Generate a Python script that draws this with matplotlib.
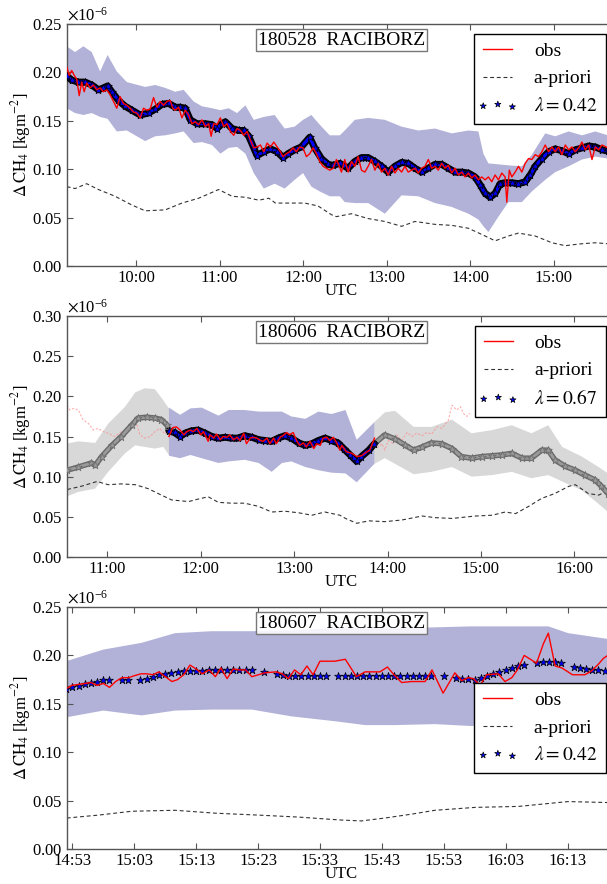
import matplotlib
matplotlib.use("Agg")
import matplotlib.pyplot as plt
import matplotlib.patheffects as pe
from matplotlib.ticker import FuncFormatter, ScalarFormatter
from matplotlib.legend_handler import HandlerPathCollection
from matplotlib.collections import PathCollection
import numpy as np

plt.rcParams['font.family'] = ['Liberation Serif', 'DejaVu Serif']
plt.rcParams['mathtext.fontset'] = 'stix'
plt.rcParams['axes.edgecolor'] = '#555555'
plt.rcParams['axes.linewidth'] = 1.0
plt.rcParams['xtick.direction'] = 'in'
plt.rcParams['ytick.direction'] = 'in'
plt.rcParams['xtick.top'] = True
plt.rcParams['ytick.right'] = True
plt.rcParams['xtick.major.size'] = 4
plt.rcParams['ytick.major.size'] = 4
plt.rcParams['xtick.major.pad'] = 3
plt.rcParams['xtick.color'] = '#555555'
plt.rcParams['ytick.color'] = '#555555'
plt.rcParams['xtick.labelcolor'] = 'black'
plt.rcParams['ytick.labelcolor'] = 'black'

SCALE = 1e-6

# ---------------- Panel 1 : 180528 (times in decimal hours UTC, values x1e-6) ----
p1_title = "180528  RACIBORZ"
p1_lambda = "0.42"
p1_band_t = [9.17, 9.27, 9.37, 9.47, 9.57, 9.66, 9.77, 9.89, 10.11, 10.23, 10.35, 10.47, 10.57, 10.69,
             10.79, 10.91, 11.01, 11.11, 11.21, 11.31, 11.41, 11.53, 11.66, 11.78, 11.90, 12.00, 12.10,
             12.20, 12.32, 12.44, 12.50, 12.62, 12.78, 12.98, 13.18, 13.38, 13.58, 13.78, 13.98, 14.10,
             14.16, 14.22, 14.34, 14.46, 14.62, 14.74, 14.90, 15.02, 15.18, 15.34, 15.50, 15.65]
p1_band_up = [0.227, 0.221, 0.227, 0.221, 0.201, 0.218, 0.201, 0.190, 0.185, 0.187, 0.184, 0.180, 0.182,
              0.170, 0.165, 0.163, 0.161, 0.163, 0.158, 0.166, 0.151, 0.154, 0.156, 0.142, 0.144, 0.151,
              0.156, 0.146, 0.135, 0.135, 0.140, 0.151, 0.153, 0.151, 0.144, 0.140, 0.142, 0.137, 0.140,
              0.139, 0.116, 0.106, 0.105, 0.104, 0.103, 0.115, 0.137, 0.134, 0.139, 0.135, 0.139, 0.135]
p1_band_lo = [0.163, 0.158, 0.156, 0.158, 0.154, 0.152, 0.139, 0.140, 0.129, 0.134, 0.135, 0.137, 0.139,
              0.127, 0.128, 0.125, 0.116, 0.122, 0.123, 0.116, 0.096, 0.080, 0.085, 0.080, 0.089, 0.096,
              0.082, 0.077, 0.072, 0.072, 0.066, 0.065, 0.065, 0.054, 0.073, 0.072, 0.065, 0.061, 0.054,
              0.048, 0.041, 0.035, 0.051, 0.066, 0.066, 0.077, 0.089, 0.097, 0.103, 0.110, 0.113, 0.111]
p1_ret_t = [9.17, 9.23, 9.31, 9.39, 9.47, 9.55, 9.61, 9.66, 9.71, 9.79, 9.87, 9.95, 10.05, 10.15, 10.23,
            10.31, 10.39, 10.47, 10.53, 10.59, 10.65, 10.73, 10.83, 10.91, 10.97, 11.03, 11.07, 11.15,
            11.23, 11.29, 11.35, 11.41, 11.45, 11.53, 11.61, 11.69, 11.76, 11.82, 11.90, 11.98, 12.08,
            12.14, 12.22, 12.30, 12.36, 12.44, 12.54, 12.62, 12.70, 12.78, 12.86, 12.94, 13.02, 13.10,
            13.18, 13.26, 13.34, 13.42, 13.50, 13.58, 13.66, 13.74, 13.82, 13.90, 13.98, 14.06, 14.12,
            14.18, 14.24, 14.30, 14.36, 14.42, 14.50, 14.58, 14.66, 14.72, 14.78, 14.86, 14.94, 15.02,
            15.10, 15.18, 15.26, 15.34, 15.42, 15.50, 15.58, 15.65]
p1_ret_v = [0.196, 0.192, 0.190, 0.190, 0.187, 0.182, 0.184, 0.186, 0.180, 0.171, 0.165, 0.161, 0.156,
            0.158, 0.162, 0.167, 0.168, 0.164, 0.164, 0.163, 0.151, 0.147, 0.147, 0.146, 0.142, 0.147,
            0.149, 0.142, 0.140, 0.140, 0.134, 0.122, 0.114, 0.118, 0.121, 0.118, 0.112, 0.116, 0.120,
            0.123, 0.133, 0.122, 0.111, 0.105, 0.104, 0.106, 0.101, 0.108, 0.112, 0.112, 0.108, 0.103,
            0.097, 0.103, 0.107, 0.106, 0.101, 0.097, 0.101, 0.105, 0.105, 0.101, 0.097, 0.097, 0.096,
            0.092, 0.084, 0.075, 0.071, 0.075, 0.085, 0.086, 0.086, 0.085, 0.087, 0.094, 0.103, 0.111,
            0.118, 0.121, 0.119, 0.116, 0.120, 0.122, 0.124, 0.123, 0.120, 0.119]
p1_obs_t = [9.17, 9.20, 9.23, 9.26, 9.29, 9.32, 9.35, 9.38, 9.41, 9.45, 9.49, 9.53, 9.57, 9.61, 9.65,
            9.69, 9.73, 9.77, 9.81, 9.85, 9.89, 9.93, 9.97, 10.01, 10.05, 10.09, 10.13, 10.17, 10.21,
            10.25, 10.29, 10.33, 10.37, 10.41, 10.44, 10.47, 10.51, 10.55, 10.59, 10.63, 10.67, 10.71,
            10.75, 10.79, 10.83, 10.87, 10.90, 10.93, 10.97, 11.01, 11.05, 11.09, 11.13, 11.17, 11.21,
            11.25, 11.29, 11.33, 11.37, 11.41, 11.45, 11.49, 11.53, 11.57, 11.61, 11.65, 11.69, 11.73,
            11.76, 11.80, 11.84, 11.88, 11.92, 11.96, 12.00, 12.04, 12.08, 12.12, 12.16, 12.20, 12.24,
            12.28, 12.32, 12.36, 12.40, 12.43, 12.46, 12.50, 12.54, 12.58, 12.62, 12.66, 12.70, 12.74,
            12.78, 12.82, 12.86, 12.90, 12.94, 12.98, 13.02, 13.06, 13.10, 13.14, 13.18, 13.22, 13.26,
            13.30, 13.34, 13.38, 13.42, 13.46, 13.50, 13.54, 13.58, 13.62, 13.66, 13.70, 13.74, 13.78,
            13.82, 13.86, 13.90, 13.94, 13.98, 14.02, 14.06, 14.10, 14.14, 14.18, 14.22, 14.26, 14.30,
            14.34, 14.38, 14.42, 14.44, 14.47, 14.50, 14.54, 14.58, 14.62, 14.66, 14.70, 14.74, 14.78,
            14.82, 14.86, 14.90, 14.94, 14.98, 15.02, 15.06, 15.10, 15.14, 15.18, 15.22, 15.26, 15.30,
            15.34, 15.38, 15.42, 15.46, 15.50, 15.54, 15.58, 15.65]
p1_obs_v = [0.206, 0.197, 0.202, 0.197, 0.193, 0.176, 0.190, 0.180, 0.189, 0.184, 0.187, 0.182, 0.184,
            0.180, 0.182, 0.177, 0.170, 0.163, 0.175, 0.168, 0.166, 0.163, 0.159, 0.158, 0.153, 0.163,
            0.161, 0.162, 0.174, 0.164, 0.170, 0.166, 0.170, 0.171, 0.163, 0.161, 0.164, 0.153, 0.161,
            0.156, 0.147, 0.149, 0.146, 0.151, 0.144, 0.147, 0.134, 0.147, 0.146, 0.153, 0.144, 0.147,
            0.139, 0.135, 0.142, 0.140, 0.135, 0.139, 0.130, 0.122, 0.123, 0.125, 0.118, 0.127, 0.123,
            0.128, 0.123, 0.118, 0.113, 0.116, 0.118, 0.122, 0.118, 0.123, 0.122, 0.113, 0.116, 0.122,
            0.116, 0.108, 0.103, 0.101, 0.099, 0.101, 0.110, 0.104, 0.097, 0.110, 0.097, 0.108, 0.103,
            0.113, 0.099, 0.097, 0.103, 0.110, 0.099, 0.106, 0.097, 0.101, 0.094, 0.103, 0.096, 0.101,
            0.097, 0.103, 0.097, 0.099, 0.101, 0.096, 0.101, 0.103, 0.110, 0.101, 0.103, 0.099, 0.106,
            0.101, 0.104, 0.096, 0.101, 0.094, 0.097, 0.092, 0.096, 0.091, 0.094, 0.089, 0.092, 0.089,
            0.092, 0.087, 0.094, 0.089, 0.096, 0.092, 0.066, 0.099, 0.092, 0.097, 0.103, 0.097, 0.106,
            0.111, 0.110, 0.115, 0.113, 0.118, 0.125, 0.118, 0.123, 0.118, 0.123, 0.115, 0.125, 0.120,
            0.123, 0.118, 0.122, 0.128, 0.120, 0.125, 0.110, 0.123, 0.120, 0.125, 0.122]
p1_apr_t = [9.17, 9.27, 9.41, 9.55, 9.75, 9.95, 10.11, 10.35, 10.55, 10.75, 10.91, 10.99, 11.15, 11.31,
            11.47, 11.59, 11.67, 11.82, 12.02, 12.18, 12.34, 12.40, 12.58, 12.78, 12.98, 13.18, 13.34,
            13.58, 13.78, 13.98, 14.18, 14.30, 14.46, 14.58, 14.78, 14.98, 15.14, 15.34, 15.50, 15.65]
p1_apr_v = [0.082, 0.080, 0.085, 0.079, 0.072, 0.063, 0.057, 0.058, 0.065, 0.070, 0.076, 0.079, 0.072,
            0.071, 0.068, 0.070, 0.065, 0.065, 0.065, 0.062, 0.053, 0.051, 0.054, 0.049, 0.046, 0.041,
            0.046, 0.043, 0.042, 0.039, 0.031, 0.026, 0.031, 0.034, 0.031, 0.024, 0.021, 0.023, 0.024,
            0.023]
p1_xlim = [9.174, 15.748]
p1_ylim = [0.0, 0.25]
p1_xticks = [10, 11, 12, 13, 14, 15]

# ---------------- Panel 2 : 180606 --------------------------------------------------
p2_title = "180606  RACIBORZ"
p2_lambda = "0.67"
p2_gpre_t = [10.56, 10.69, 10.87, 11.01, 11.19, 11.30, 11.40, 11.51, 11.60, 11.66]
p2_gpre_up = [0.141, 0.144, 0.142, 0.166, 0.187, 0.205, 0.210, 0.209, 0.195, 0.185]
p2_gpre_lo = [0.075, 0.081, 0.085, 0.106, 0.129, 0.139, 0.137, 0.135, 0.137, 0.127]
p2_band_t = [11.66, 11.78, 11.89, 12.01, 12.19, 12.30, 12.47, 12.62, 12.76, 12.87, 12.97, 13.12, 13.26,
             13.40, 13.55, 13.67, 13.86]
p2_band_up = [0.186, 0.177, 0.185, 0.186, 0.176, 0.183, 0.183, 0.181, 0.181, 0.181, 0.175, 0.172, 0.181,
              0.178, 0.183, 0.146, 0.168]
p2_band_lo = [0.126, 0.123, 0.127, 0.123, 0.117, 0.119, 0.121, 0.117, 0.106, 0.117, 0.119, 0.112, 0.108,
              0.105, 0.104, 0.093, 0.116]
p2_gpost_t = [13.86, 13.97, 14.08, 14.28, 14.47, 14.69, 14.90, 15.12, 15.33, 15.54, 15.72, 15.87, 16.08,
              16.26, 16.36]
p2_gpost_up = [0.168, 0.180, 0.182, 0.162, 0.162, 0.171, 0.154, 0.158, 0.164, 0.154, 0.164, 0.137, 0.125,
               0.112, 0.104]
p2_gpost_lo = [0.116, 0.123, 0.116, 0.103, 0.106, 0.112, 0.100, 0.102, 0.106, 0.098, 0.102, 0.094, 0.083,
               0.066, 0.056]
p2_rpre_t = [10.57, 10.69, 10.83, 10.87, 10.94, 11.05, 11.15, 11.26, 11.33, 11.42, 11.51, 11.58, 11.64,
             11.66]
p2_rpre_v = [0.108, 0.112, 0.117, 0.114, 0.125, 0.139, 0.150, 0.164, 0.173, 0.174, 0.173, 0.171, 0.164,
             0.158]
p2_ret_t = [11.66, 11.72, 11.78, 11.83, 11.90, 11.97, 12.05, 12.12, 12.19, 12.26, 12.33, 12.40, 12.47,
            12.55, 12.62, 12.69, 12.76, 12.83, 12.90, 12.97, 13.05, 13.12, 13.19, 13.26, 13.33, 13.40,
            13.47, 13.53, 13.60, 13.67, 13.72, 13.80, 13.86]
p2_ret_v = [0.157, 0.155, 0.150, 0.154, 0.157, 0.158, 0.154, 0.150, 0.148, 0.149, 0.148, 0.148, 0.151,
            0.149, 0.146, 0.145, 0.144, 0.148, 0.151, 0.148, 0.142, 0.139, 0.141, 0.145, 0.148, 0.145,
            0.142, 0.135, 0.127, 0.119, 0.125, 0.133, 0.141]
p2_rpost_t = [13.86, 13.97, 14.08, 14.19, 14.28, 14.37, 14.47, 14.58, 14.69, 14.79, 14.90, 15.01, 15.12,
              15.22, 15.33, 15.44, 15.54, 15.65, 15.72, 15.79, 15.90, 16.01, 16.11, 16.22, 16.29, 16.36]
p2_rpost_v = [0.141, 0.152, 0.147, 0.139, 0.133, 0.137, 0.142, 0.141, 0.135, 0.125, 0.123, 0.125, 0.126,
              0.127, 0.129, 0.123, 0.123, 0.133, 0.133, 0.121, 0.113, 0.108, 0.102, 0.096, 0.088, 0.079]
p2_opre_t = [10.57, 10.60, 10.64, 10.69, 10.74, 10.80, 10.85, 10.90, 10.96, 11.01, 11.08, 11.15, 11.23,
             11.30, 11.35, 11.40, 11.46, 11.51, 11.56, 11.62, 11.66]
p2_opre_v = [0.189, 0.183, 0.185, 0.183, 0.171, 0.166, 0.158, 0.160, 0.156, 0.154, 0.150, 0.156, 0.158,
             0.171, 0.152, 0.148, 0.150, 0.156, 0.160, 0.153, 0.158]
p2_obs_t = [11.66, 11.70, 11.74, 11.78, 11.82, 11.85, 11.89, 11.92, 11.96, 12.00, 12.03, 12.08, 12.10,
            12.14, 12.17, 12.21, 12.24, 12.28, 12.31, 12.35, 12.39, 12.42, 12.46, 12.49, 12.53, 12.56,
            12.60, 12.64, 12.67, 12.71, 12.74, 12.78, 12.81, 12.85, 12.88, 12.92, 12.95, 12.99, 13.03,
            13.06, 13.10, 13.13, 13.17, 13.21, 13.24, 13.28, 13.31, 13.35, 13.38, 13.42, 13.46, 13.49,
            13.51, 13.56, 13.62, 13.67, 13.72, 13.78, 13.81, 13.86]
p2_obs_v = [0.150, 0.161, 0.162, 0.158, 0.152, 0.156, 0.158, 0.156, 0.160, 0.152, 0.156, 0.144, 0.152,
            0.148, 0.153, 0.146, 0.150, 0.149, 0.152, 0.146, 0.149, 0.145, 0.154, 0.141, 0.148, 0.149,
            0.148, 0.145, 0.144, 0.148, 0.141, 0.148, 0.141, 0.149, 0.151, 0.155, 0.152, 0.155, 0.144,
            0.139, 0.142, 0.137, 0.144, 0.135, 0.141, 0.139, 0.148, 0.149, 0.145, 0.149, 0.141, 0.133,
            0.139, 0.131, 0.129, 0.125, 0.126, 0.131, 0.133, 0.148]
p2_opost_t = [13.86, 13.90, 13.94, 13.97, 14.01, 14.06, 14.10, 14.15, 14.21, 14.26, 14.31, 14.37, 14.42,
              14.47, 14.53, 14.58, 14.65, 14.69, 14.74, 14.78, 14.81, 14.85, 14.88]
p2_opost_v = [0.148, 0.137, 0.141, 0.133, 0.145, 0.141, 0.152, 0.145, 0.155, 0.150, 0.154, 0.151, 0.155,
              0.153, 0.162, 0.160, 0.170, 0.189, 0.183, 0.187, 0.179, 0.175, 0.179]
p2_apr_t = [10.57, 10.72, 10.89, 11.01, 11.15, 11.30, 11.44, 11.58, 11.69, 11.87, 11.97, 12.08, 12.19,
            12.33, 12.47, 12.62, 12.76, 12.90, 13.05, 13.19, 13.33, 13.49, 13.55, 13.67, 13.80, 13.97,
            14.15, 14.37, 14.51, 14.69, 14.94, 15.12, 15.26, 15.37, 15.51, 15.65, 15.79, 15.94, 16.01,
            16.15, 16.26, 16.36]
p2_apr_v = [0.084, 0.088, 0.094, 0.090, 0.091, 0.090, 0.085, 0.077, 0.071, 0.069, 0.072, 0.075, 0.068,
            0.067, 0.067, 0.063, 0.056, 0.057, 0.055, 0.052, 0.056, 0.052, 0.048, 0.042, 0.045, 0.044,
            0.046, 0.051, 0.049, 0.048, 0.051, 0.052, 0.056, 0.054, 0.063, 0.073, 0.079, 0.088, 0.090,
            0.079, 0.077, 0.083]
p2_xlim = [10.569, 16.446]
p2_ylim = [0.0, 0.30]
p2_xticks = [11, 12, 13, 14, 15, 16]

# ---------------- Panel 3 : 180607 (times in minutes after 14:00) -------------------
p3_title = "180607  RACIBORZ"
p3_lambda = "0.42"
p3_band_m = [52.0, 58.0, 64.2, 69.6, 75.5, 82.0, 88.4, 95.4, 100.3, 105.1, 111.6, 117.5, 123.4, 129.9,
             133.1, 139.5]
p3_band_up = [0.194, 0.206, 0.213, 0.223, 0.225, 0.225, 0.226, 0.228, 0.228, 0.228, 0.229, 0.230, 0.230,
              0.230, 0.223, 0.217]
p3_band_lo = [0.136, 0.143, 0.138, 0.143, 0.144, 0.144, 0.137, 0.132, 0.128, 0.128, 0.129, 0.127, 0.130,
              0.132, 0.134, 0.136]
p3_ret_m = [52, 53, 54, 55, 56, 57, 58, 59, 61, 62, 64, 65, 66, 67, 68, 69, 70, 71, 72, 73, 74, 75, 76,
            77, 78, 79, 80, 81, 82, 84, 86, 87, 88, 89, 90, 91, 92, 93, 94, 96, 97, 98, 99, 100, 101,
            102, 103, 104, 105, 106, 107, 108, 109, 110, 111, 113, 115, 116, 117, 118, 119, 120, 121,
            122, 123, 124, 125, 126, 128, 129, 130, 131, 132, 134, 135, 136, 137, 138, 139]
p3_ret_v = [0.165, 0.167, 0.168, 0.170, 0.171, 0.173, 0.175, 0.175, 0.175, 0.175, 0.175, 0.176, 0.178,
            0.180, 0.181, 0.182, 0.183, 0.184, 0.184, 0.184, 0.184, 0.185, 0.185, 0.185, 0.185, 0.185,
            0.185, 0.185, 0.185, 0.183, 0.181, 0.180, 0.179, 0.179, 0.179, 0.179, 0.179, 0.179, 0.179,
            0.179, 0.179, 0.179, 0.179, 0.179, 0.179, 0.179, 0.179, 0.179, 0.179, 0.179, 0.179, 0.179,
            0.179, 0.179, 0.179, 0.179, 0.177, 0.176, 0.176, 0.175, 0.177, 0.179, 0.181, 0.183, 0.185,
            0.187, 0.189, 0.190, 0.192, 0.193, 0.193, 0.193, 0.192, 0.188, 0.187, 0.186, 0.185, 0.185,
            0.184]
p3_obs_m = [52.1, 52.9, 54.0, 55.1, 56.0, 57.0, 58.0, 59.0, 60.0, 61.0, 62.1, 63.0, 64.1, 65.0, 66.0,
            67.0, 68.0, 69.1, 70.0, 71.0, 72.0, 73.0, 74.0, 75.1, 76.1, 77.0, 78.0, 79.0, 79.9, 81.0,
            82.0, 84.1, 85.9, 86.9, 87.9, 88.9, 89.9, 90.9, 91.9, 93.0, 94.9, 95.4, 97.1, 98.9, 100.3,
            102.7, 103.9, 105.1, 106.2, 107.8, 110.0, 111.1, 112.9, 114.8, 115.9, 117.0, 117.8, 118.9,
            119.9, 121.8, 122.9, 124.0, 124.9, 126.0, 128.0, 129.1, 129.9, 131.0, 132.1, 133.8, 135.8,
            136.9, 138.0, 138.8, 139.5]
p3_obs_v = [0.166, 0.169, 0.170, 0.171, 0.172, 0.169, 0.171, 0.167, 0.173, 0.177, 0.177, 0.179, 0.181,
            0.181, 0.180, 0.183, 0.178, 0.173, 0.175, 0.180, 0.190, 0.186, 0.181, 0.185, 0.178, 0.187,
            0.176, 0.186, 0.185, 0.185, 0.178, 0.182, 0.183, 0.181, 0.176, 0.185, 0.180, 0.189, 0.180,
            0.194, 0.194, 0.194, 0.196, 0.178, 0.183, 0.183, 0.188, 0.179, 0.172, 0.173, 0.173, 0.185,
            0.161, 0.182, 0.174, 0.177, 0.176, 0.169, 0.180, 0.181, 0.173, 0.177, 0.185, 0.200, 0.192,
            0.212, 0.223, 0.189, 0.187, 0.180, 0.180, 0.184, 0.191, 0.197, 0.200]
p3_apr_m = [52.1, 57.2, 62.6, 69.6, 76.1, 83.1, 89.5, 96.2, 99.7, 103.5, 107.8, 111.6, 118.1, 125.1,
            133.1, 139.5]
p3_apr_v = [0.032, 0.035, 0.039, 0.040, 0.037, 0.035, 0.033, 0.030, 0.029, 0.032, 0.036, 0.040, 0.043,
            0.044, 0.049, 0.048]
p3_xlim_m = [52.14, 140.84]
p3_ylim = [0.0, 0.25]
p3_xticks_m = [53, 63, 73, 83, 93, 103, 113, 123, 133]


def hours_from_minutes(m, base=14):
    return [base + x / 60.0 for x in m]


def sc(v):
    return [x * SCALE for x in v]


def hhmm(x, pos=None):
    total = int(round(x * 60))
    return "%02d:%02d" % (total // 60, total % 60)


BAND_BLUE = (0.0, 0.0, 0.5, 0.3)
BAND_GREY = (0.5, 0.5, 0.5, 0.3)
APR_KW = dict(color='#333333', lw=0.8, dashes=(3.5, 2.5))
OBS_KW = dict(color='red', lw=1.0)
PINK_KW = dict(color=(1.0, 0.55, 0.55), lw=0.8, dashes=(2.0, 1.5), alpha=0.7)
STAR_S = 34


def dense_track(ax, t, v, face, edge, inner, outer, z=3):
    ax.plot(t, sc(v), color=face, lw=inner, solid_capstyle='round', zorder=z,
            path_effects=[pe.Stroke(linewidth=outer, foreground=edge), pe.Normal()])
    ax.scatter(t, sc(v), marker='*', s=STAR_S, facecolor=face, edgecolor=edge, linewidths=0.5,
               zorder=z + 0.1)


def style_axes(ax, title, xlim, ylim, xticks):
    ax.set_xlim(xlim)
    ax.set_ylim([ylim[0] * SCALE, ylim[1] * SCALE])
    ax.set_xticks(xticks)
    ax.xaxis.set_major_formatter(FuncFormatter(hhmm))
    ax.set_yticks(np.arange(ylim[0], ylim[1] + 1e-9, 0.05) * SCALE)
    fmt = ScalarFormatter(useMathText=True)
    fmt.set_powerlimits((-6, -6))
    ax.yaxis.set_major_formatter(fmt)
    ax.yaxis.get_offset_text().set_fontsize(12)
    ax.tick_params(labelsize=12)
    ax.set_xlabel("UTC", fontsize=12, labelpad=-2)
    ax.set_ylabel(r"$\Delta\,\mathrm{CH_4}$ [kgm$^{-2}$]", fontsize=12)
    ax.yaxis.set_label_coords(-0.062, 0.5)
    ax.text(0.5, 0.968, title, transform=ax.transAxes, ha='center', va='top', fontsize=14, zorder=6,
            bbox=dict(boxstyle='square,pad=0.12', facecolor=(1, 1, 1, 0.85), edgecolor='#777777', lw=1.0))


def add_legend(ax, loc):
    leg = ax.legend(loc=loc, fontsize=14, frameon=True, fancybox=False, framealpha=1.0,
                    edgecolor='black', handlelength=1.5, scatterpoints=3, borderpad=0.45,
                    labelspacing=0.5, handletextpad=1.1, borderaxespad=0.5, markerscale=0.8,
                    handler_map={PathCollection: HandlerPathCollection(marker_pad=0.0)})
    leg.get_frame().set_linewidth(1.0)
    return leg


fig = plt.figure(figsize=(6.07, 8.84), dpi=100)
LEFT, WIDTH = 0.1104, 0.9045
ax1 = fig.add_axes([LEFT, 0.6991, WIDTH, 0.27376])
ax2 = fig.add_axes([LEFT, 0.36991, WIDTH, 0.27262])
ax3 = fig.add_axes([LEFT, 0.03959, WIDTH, 0.27376])

# ---- panel 1
ax = ax1
ax.fill_between(p1_band_t, sc(p1_band_lo), sc(p1_band_up), facecolor=BAND_BLUE, edgecolor='none', zorder=1)
ax.plot(p1_obs_t, sc(p1_obs_v), label='obs', zorder=4, **OBS_KW)
ax.plot(p1_apr_t, sc(p1_apr_v), label='a-priori', zorder=2, **APR_KW)
dense_track(ax, p1_ret_t, p1_ret_v, 'blue', 'black', 2.2, 5.0)
ax.scatter([], [], marker='*', s=STAR_S, facecolor='blue', edgecolor='black', linewidths=0.5,
           label=r'$\lambda=%s$' % p1_lambda)
style_axes(ax, p1_title, p1_xlim, p1_ylim, p1_xticks)
add_legend(ax, 'upper right')

# ---- panel 2
ax = ax2
ax.fill_between(p2_gpre_t, sc(p2_gpre_lo), sc(p2_gpre_up), facecolor=BAND_GREY, edgecolor='none', zorder=1)
ax.fill_between(p2_band_t, sc(p2_band_lo), sc(p2_band_up), facecolor=BAND_BLUE, edgecolor='none', zorder=1)
ax.fill_between(p2_gpost_t, sc(p2_gpost_lo), sc(p2_gpost_up), facecolor=BAND_GREY, edgecolor='none', zorder=1)
ax.plot(p2_opre_t, sc(p2_opre_v), zorder=2, **PINK_KW)
ax.plot(p2_opost_t, sc(p2_opost_v), zorder=2, **PINK_KW)
ax.plot(p2_obs_t, sc(p2_obs_v), label='obs', zorder=4, **OBS_KW)
ax.plot(p2_apr_t, sc(p2_apr_v), label='a-priori', zorder=2, **APR_KW)
dense_track(ax, p2_rpre_t, p2_rpre_v, '#9a9a9a', '#6a6a6a', 2.0, 4.0)
dense_track(ax, p2_rpost_t, p2_rpost_v, '#9a9a9a', '#6a6a6a', 2.0, 4.0)
dense_track(ax, p2_ret_t, p2_ret_v, 'blue', 'black', 2.2, 5.0)
ax.scatter([], [], marker='*', s=STAR_S, facecolor='blue', edgecolor='black', linewidths=0.5,
           label=r'$\lambda=%s$' % p2_lambda)
style_axes(ax, p2_title, p2_xlim, p2_ylim, p2_xticks)
add_legend(ax, 'upper right')

# ---- panel 3
ax = ax3
ax.fill_between(hours_from_minutes(p3_band_m), sc(p3_band_lo), sc(p3_band_up), facecolor=BAND_BLUE,
                edgecolor='none', zorder=1)
ax.plot(hours_from_minutes(p3_obs_m), sc(p3_obs_v), label='obs', zorder=4, **OBS_KW)
ax.plot(hours_from_minutes(p3_apr_m), sc(p3_apr_v), label='a-priori', zorder=2, **APR_KW)
ax.scatter(hours_from_minutes(p3_ret_m), sc(p3_ret_v), marker='*', s=STAR_S, facecolor='blue',
           edgecolor='black', linewidths=0.5, zorder=3, label=r'$\lambda=%s$' % p3_lambda)
style_axes(ax, p3_title, hours_from_minutes(p3_xlim_m), p3_ylim, hours_from_minutes(p3_xticks_m))
add_legend(ax, 'center right')

fig.savefig("out.png", dpi=100)
